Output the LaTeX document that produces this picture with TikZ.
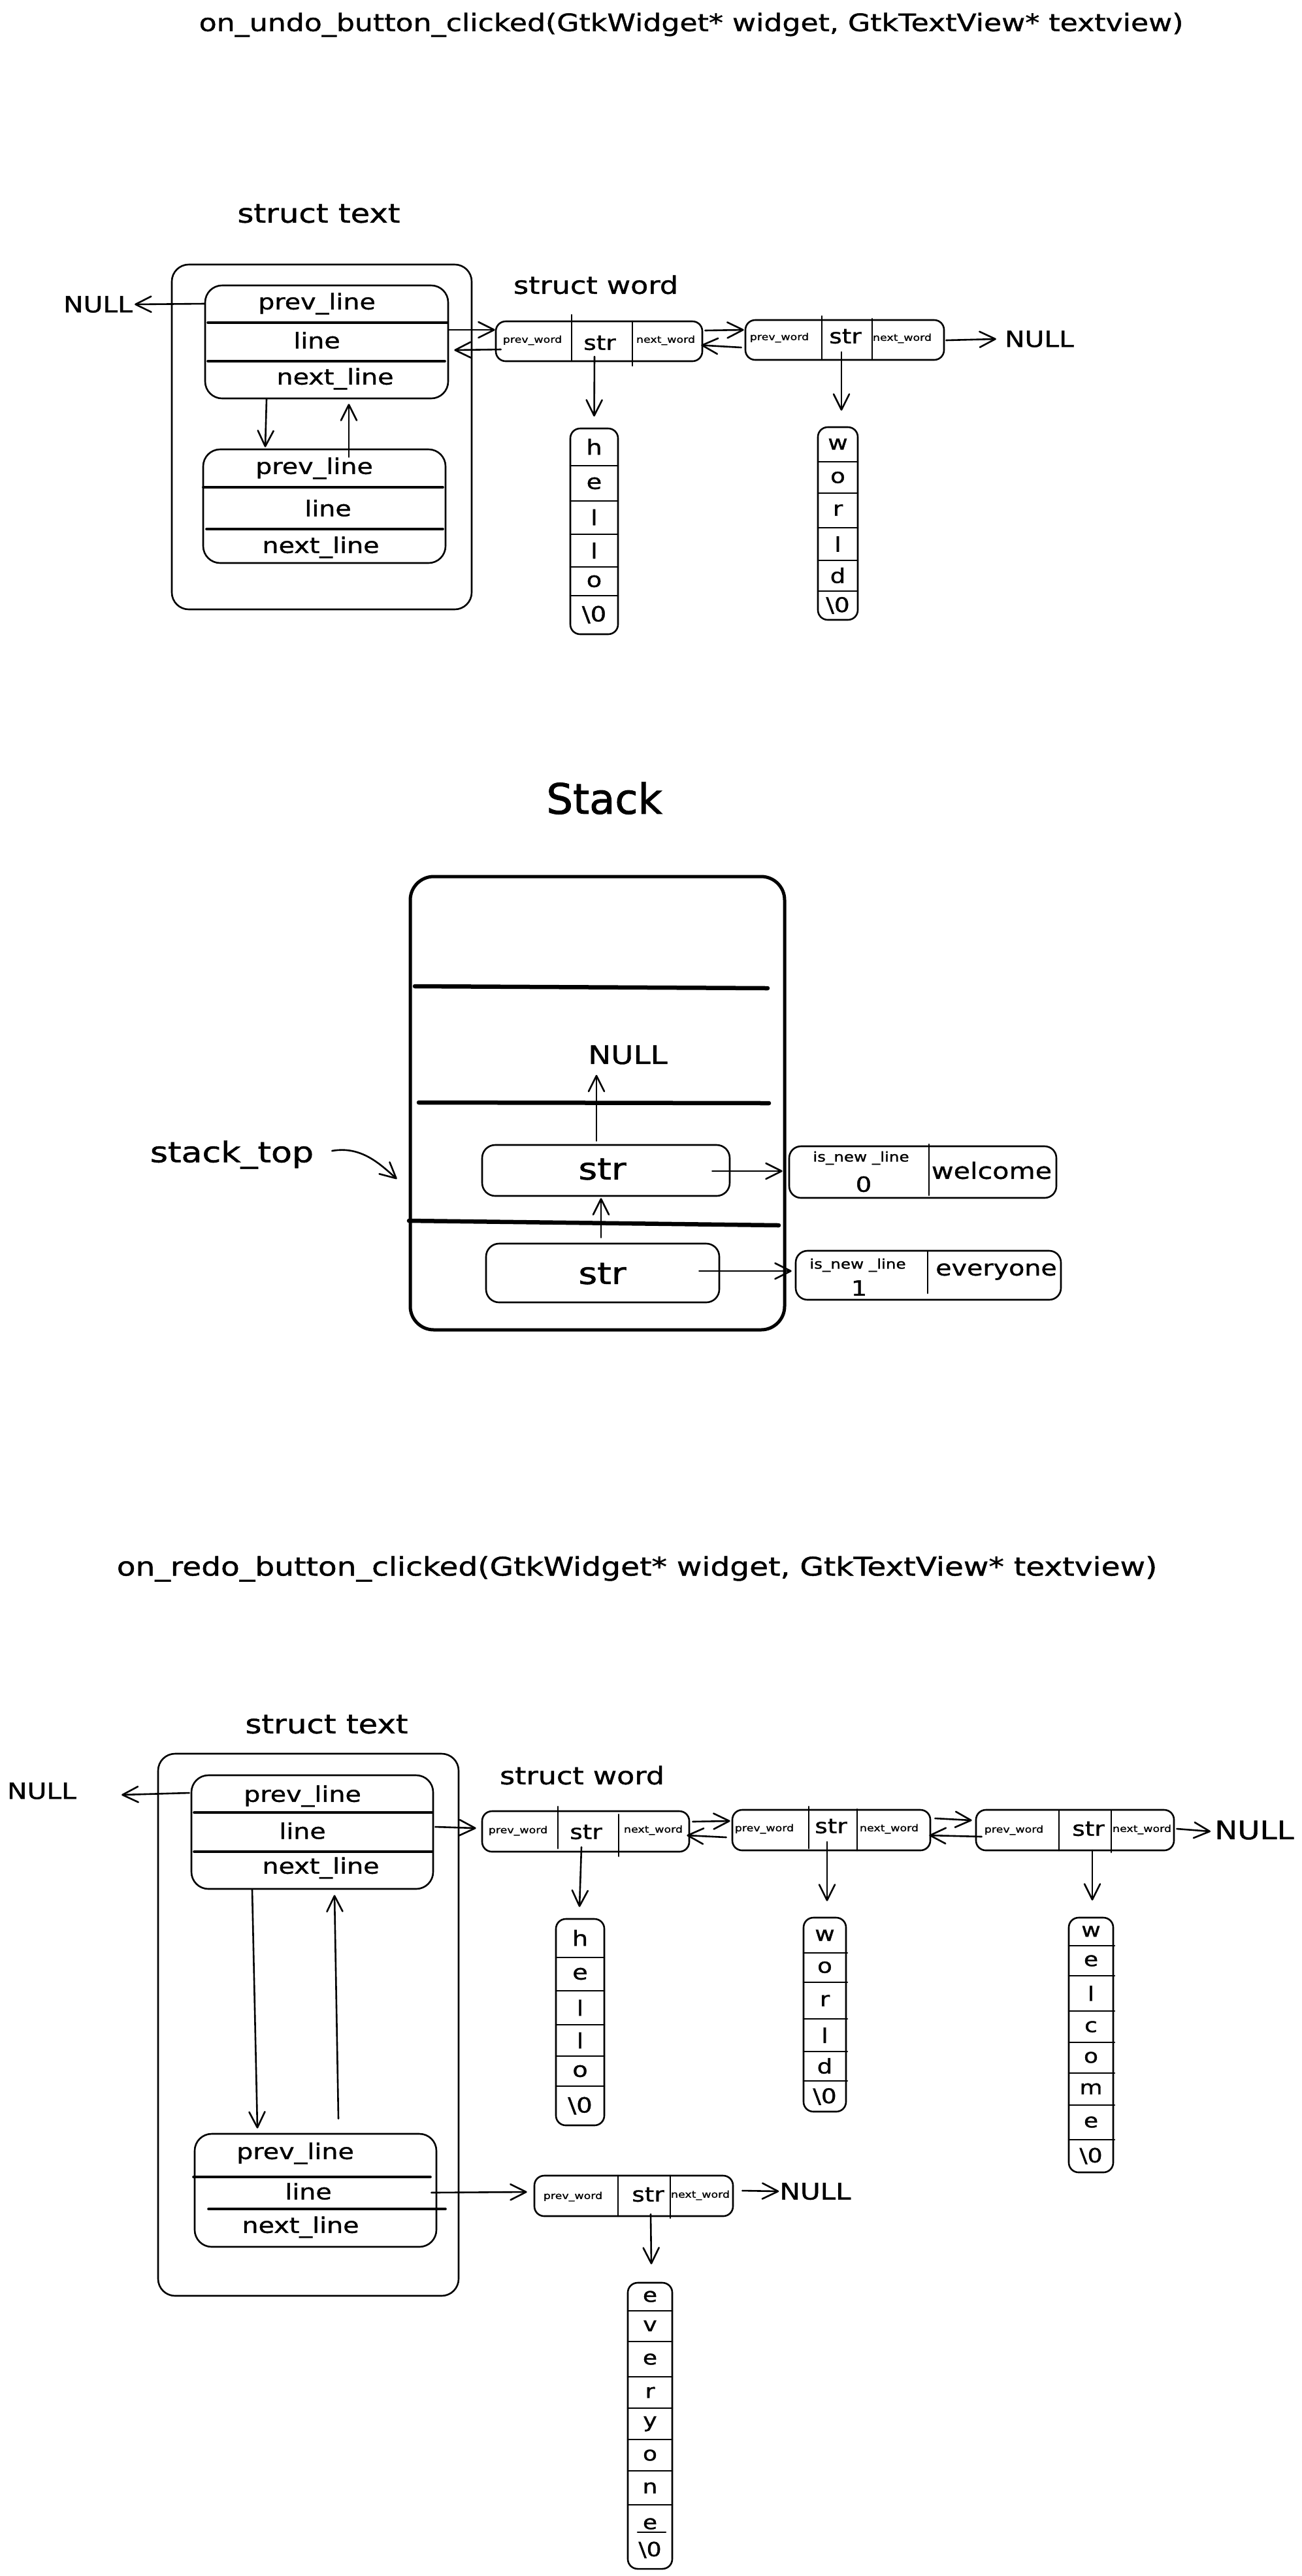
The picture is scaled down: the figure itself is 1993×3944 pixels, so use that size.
\documentclass[tikz,border=0pt]{standalone}
\usepackage{fontspec}
\setmainfont{DejaVu Sans}[FakeStretch=1.2,FakeBold=1.2]
\newfontfamily\plainfont{DejaVu Sans}[FakeBold=1.5]
\usetikzlibrary{arrows.meta,calc}
\newcommand{\fsz}[1]{\fontsize{#1pt}{#1pt}\selectfont}
\newcommand{\bz}{\textbackslash0}
\begin{document}
\begin{tikzpicture}[x=1pt,y=-1pt,
  box/.style={draw, line width=2.6pt, rounded corners=26pt, inner sep=0pt},
  wbox/.style={draw, line width=2.6pt, rounded corners=15pt, inner sep=0pt},
  cbox/.style={draw, line width=2.6pt, rounded corners=15pt, inner sep=0pt},
  txt/.style={inner sep=0pt, font={\fsz{#1}}},
  arr/.style={line width=2.6pt, line cap=round, -{Straight Barb[length=24pt,width=24pt,round]}},
  dv/.style={line width=3.6pt, line cap=round},
  sepline/.style={line width=2.6pt, line cap=round},
  heavy/.style={line width=6.5pt, line cap=round}
]
\fill[white] (0,0) rectangle (1993,3944);
\useasboundingbox (0,0) rectangle (1993,3944);

%================ UNDO =================
\node[txt=36.8] (title1) at (1058,38) {on\_undo\_button\_clicked(GtkWidget* widget, GtkTextView* textview)};
\node[txt=40] (stext1) at (488,327) {struct text};
\node[box, minimum width=459pt, minimum height=528pt] (outer1) at (492.5,669) {};
% inner struct 1
\node[box, minimum width=372pt, minimum height=173pt] (ia1) at (500,523.5) {};
\draw[dv] (318,494) -- (684,494);
\draw[dv] (318,553) -- (681,553);
\node[txt=33] (ia1p) at (485,465) {prev\_line};
\node[txt=33] (ia1l) at (485,521) {line};
\node[txt=33] (ia1n) at (513,580) {next\_line};
% inner struct 2
\node[box, minimum width=371pt, minimum height=174pt] (ib1) at (496.5,775) {};
\draw[dv] (311,746) -- (678,746);
\draw[dv] (316,810) -- (678,810);
\node[txt=33] (ib1p) at (481,717) {prev\_line};
\node[txt=33] (ib1l) at (502,778) {line};
\node[txt=33] (ib1n) at (491,838) {next\_line};
\node[txt=34] (null1) at (150,466) {NULL};
% words
\node[txt=37] (sword1) at (912,436) {struct word};
\node[wbox, minimum width=316pt, minimum height=61pt] (w1) at (917,522.5) {};
\draw[sepline] (875,482) -- (875,553);
\draw[sepline] (968,492) -- (968,560);
\node[txt=14.5] (w1p) at (815,521) {prev\_word};
\node[txt=31] (w1s) at (918,525) {str};
\node[txt=14.5] (w1n) at (1019,521) {next\_word};
\node[wbox, minimum width=304pt, minimum height=61pt] (w2) at (1293,520.5) {};
\draw[sepline] (1258,484) -- (1258,551);
\draw[sepline] (1335,488) -- (1335,551);
\node[txt=14.5] (w2p) at (1193,517) {prev\_word};
\node[txt=31] (w2s) at (1294,515) {str};
\node[txt=14.5] (w2n) at (1381,518) {next\_word};
\node[txt=34] (null2) at (1591,519) {NULL};
% hello
\node[cbox, minimum width=73pt, minimum height=315pt] (hello1) at (909.5,813.5) {};
\foreach \y in {713,767,818,868,912} \draw[sepline] (873,\y) -- (946,\y);
\foreach \y/\c [count=\i] in {684/h,740/e,792/l,843/l,890/o,941/\bz} \node[txt=32] (hello1c\i) at (909.5,\y) {\c};
% world
\node[cbox, minimum width=61pt, minimum height=295pt] (world1) at (1282.5,801.5) {};
\foreach \y in {707,755,808,858,905} \draw[sepline] (1252,\y) -- (1313,\y);
\foreach \y/\c [count=\i] in {680/w,731/o,781/r,833/l,881/d,927/\bz} \node[txt=31] (world1c\i) at (1282.5,\y) {\c};
% arrows
\draw[arr] ($(ia1.west)+(0,-58.5)$) -- ($(null1.east)+(3,0)$);
\draw[arr] ($(ia1.south)+(-92,0)$) -- ($(ib1.north)+(-90.5,-2)$);
\draw[arr] ($(ib1.north)+(37.5,13)$) -- ($(ia1.south)+(34,7)$);
\draw[arr] ($(ia1.east)+(0,-18.5)$) -- ($(w1.west)+(0,-17.5)$);
\draw[arr] ($(w1.west)+(9,12.5)$) -- ($(ia1.east)+(8,12.5)$);
\draw[arr] ($(w1.east)+(3,-16.5)$) -- ($(w2.west)+(-1,-15.5)$);
\draw[arr] ($(w2.west)+(-5,11.5)$) -- ($(w1.east)+(-3,6)$);
\draw[arr] ($(w2.east)+(2,0.5)$) -- ($(null2.west)+(-13,0)$);
\draw[arr] ($(w1.center)+(-7,23.5)$) -- ($(hello1.north)+(0,-17)$);
\draw[arr] ($(w2.center)+(-5,18.5)$) -- ($(world1.north)+(5.5,-24)$);

%================ STACK =================
\node[inner sep=0pt, font={\plainfont\fsz{64}}] (stack) at (925,1222) {Stack};
\node[draw, line width=5pt, rounded corners=36pt, inner sep=0pt, minimum width=573pt, minimum height=694pt] (stackbox) at (914.5,1689) {};
\draw[heavy] (635,1510) -- (1175,1513);
\draw[heavy] (641,1688) -- (1177,1689);
\draw[heavy] (626,1869) -- (1192,1876);
\node[txt=39] (null3) at (961,1615) {NULL};
\node[wbox, rounded corners=20pt, minimum width=379pt, minimum height=78pt] (s1) at (927.5,1792) {};
\node[txt=46] (s1t) at (922,1790) {str};
\node[wbox, rounded corners=20pt, minimum width=357pt, minimum height=90pt] (s2) at (922.5,1949) {};
\node[txt=46] (s2t) at (922,1950) {str};
\node[wbox, rounded corners=18pt, minimum width=409pt, minimum height=79pt] (wel) at (1412.5,1794.5) {};
\draw[sepline] (1422,1752) -- (1422,1830);
\node[txt=20.5] (welf) at (1318,1773) {is\_new \_line};
\node[txt=32] (welz) at (1322,1813) {0};
\node[txt=34.4] (welw) at (1518,1792) {welcome};
\node[wbox, rounded corners=18pt, minimum width=406pt, minimum height=75pt] (ev) at (1421,1952.5) {};
\draw[sepline] (1420,1916) -- (1420,1980);
\node[txt=20.5] (evf) at (1313,1937) {is\_new \_line};
\node[txt=32] (evo) at (1315,1972) {1};
\node[txt=33] (evw) at (1525,1947) {everyone};
\node[txt=43.5] (stacktop) at (355,1768) {stack\_top};
\draw[arr] ($(s1.north)+(-14.5,-5)$) -- ($(null3.south)+(-48,16)$);
\draw[arr] ($(s1.east)+(-28,1)$) -- ($(wel.west)+(-9,-1.5)$);
\draw[arr] ($(s2.north)+(-2.5,-8)$) -- ($(s1.south)+(-7.5,2)$);
\draw[arr] ($(s2.east)+(-32,-3)$) -- ($(ev.west)+(-5,-6.5)$);
\draw[arr] ($(stacktop.east)+(28,-6)$) .. controls +(45,-8) and +(-25,-22) .. ($(stackbox.west)+(-18,116)$);

%================ REDO =================
\node[txt=39.2] (title2) at (975,2402) {on\_redo\_button\_clicked(GtkWidget* widget, GtkTextView* textview)};
\node[txt=40] (stext2) at (500,2640) {struct text};
\node[box, minimum width=460pt, minimum height=830pt] (outer2) at (472,3100) {};
\node[box, minimum width=370pt, minimum height=174pt] (ia2) at (478,2805) {};
\draw[dv] (297,2775) -- (661,2775);
\draw[dv] (297,2835) -- (661,2835);
\node[txt=33] (ia2p) at (463,2750) {prev\_line};
\node[txt=33] (ia2l) at (463,2803) {line};
\node[txt=33] (ia2n) at (491,2860) {next\_line};
\node[box, minimum width=370pt, minimum height=173pt] (ib2) at (483,3353.5) {};
\draw[dv] (296,3333) -- (659,3333);
\draw[dv] (319,3382) -- (682,3382);
\node[txt=33] (ib2p) at (452,3297) {prev\_line};
\node[txt=33] (ib2l) at (472,3355) {line};
\node[txt=33] (ib2n) at (460,3410) {next\_line};
\node[txt=34] (null4) at (64,2742) {NULL};
\node[txt=37] (sword2) at (891,2718) {struct word};
% word a
\node[wbox, minimum width=317pt, minimum height=62pt] (wa) at (896.5,2804) {};
\draw[sepline] (854,2766) -- (854,2830);
\draw[sepline] (947,2778) -- (947,2842);
\node[txt=14.5] (wap) at (793,2803) {prev\_word};
\node[txt=31] (was) at (897,2805) {str};
\node[txt=14.5] (wan) at (1000,2802) {next\_word};
% word b
\node[wbox, minimum width=303pt, minimum height=62pt] (wb) at (1272.5,2802) {};
\draw[sepline] (1238,2766) -- (1238,2830);
\draw[sepline] (1312,2770) -- (1312,2833);
\node[txt=14.5] (wbp) at (1170,2800) {prev\_word};
\node[txt=31] (wbs) at (1272,2796) {str};
\node[txt=14.5] (wbn) at (1361,2800) {next\_word};
% word c
\node[wbox, minimum width=303pt, minimum height=62pt] (wc) at (1645.5,2802) {};
\draw[sepline] (1621,2772) -- (1621,2833);
\draw[sepline] (1701,2772) -- (1701,2836);
\node[txt=14.5] (wcp) at (1552,2802) {prev\_word};
\node[txt=31] (wcs) at (1666,2800) {str};
\node[txt=14.5] (wcn) at (1748,2801) {next\_word};
\node[txt=39] (null5) at (1920,2802) {NULL};
% word d
\node[wbox, minimum width=304pt, minimum height=62pt] (wd) at (970,3362) {};
\draw[sepline] (946,3331) -- (946,3393);
\draw[sepline] (1026,3331) -- (1026,3396);
\node[txt=14.5] (wdp) at (877,3363) {prev\_word};
\node[txt=31] (wds) at (992,3360) {str};
\node[txt=14.5] (wdn) at (1072,3361) {next\_word};
\node[txt=35] (null6) at (1248,3355) {NULL};
% hello 2
\node[cbox, minimum width=74pt, minimum height=316pt] (hello2) at (888,3096) {};
\foreach \y in {2997,3048,3100,3148,3194} \draw[sepline] (851,\y) -- (925,\y);
\foreach \y/\c [count=\i] in {2967/h,3022/e,3074/l,3124/l,3171/o,3224/\bz} \node[txt=32] (hello2c\i) at (888,\y) {\c};
% world 2
\node[cbox, minimum width=65pt, minimum height=297pt] (world2) at (1262.5,3084.5) {};
\foreach \y in {2990,3035,3091,3141,3186} \draw[sepline] (1230,\y) -- (1297,\y);
\foreach \y/\c [count=\i] in {2963/w,3012/o,3063/r,3116/l,3163/d,3210/\bz} \node[txt=31] (world2c\i) at (1262.5,\y) {\c};
% welcome 2
\node[cbox, minimum width=68pt, minimum height=390pt] (wel2) at (1670,3131) {};
\foreach \y in {2979,3025,3079,3127,3174,3223,3276} \draw[sepline] (1636,\y) -- (1706,\y);
\foreach \y/\c [count=\i] in {2957/w,3002/e,3052/l,3103/c,3150/o,3198/m,3249/e,3301/\bz} \node[txt=30] (wel2c\i) at (1670,\y) {\c};
% everyone 2
\node[cbox, minimum width=68pt, minimum height=438pt] (ev2) at (995,3714) {};
\foreach \y in {3538,3585,3639,3687,3735,3783,3835} \draw[sepline] (961,\y) -- (1029,\y);
\foreach \y/\c [count=\i] in {3516/e,3561/v,3612/e,3663/r,3711/y,3759/o,3809/n,3864/e,3904/\bz} \node[txt=30] (ev2c\i) at (995,\y) {\c};
\draw[sepline] (976,3877) -- (1019,3877);
% arrows redo
\draw[arr] ($(ia2.west)+(-2,-60)$) -- ($(null4.east)+(69,6)$);
\draw[arr] ($(ia2.south)+(-92,0)$) -- ($(ib2.north)+(-89,-7)$);
\draw[arr] ($(ib2.north)+(35,-22)$) -- ($(ia2.south)+(34,8)$);
\draw[arr] ($(ia2.east)+(2,-8)$) -- ($(wa.west)+(-8,-5)$);
\draw[arr] ($(wa.east)+(4,-15)$) -- ($(wb.west)+(-2,-14)$);
\draw[arr] ($(wb.west)+(-8,11)$) -- ($(wa.east)+(-5,6)$);
\draw[arr] ($(wb.east)+(6,-18)$) -- ($(wc.west)+(-5,-15)$);
\draw[arr] ($(wc.west)+(10,10)$) -- ($(wb.east)+(-3,8)$);
\draw[arr] ($(wc.east)+(3,-2)$) -- ($(null5.west)+(-6,2)$);
\draw[arr] ($(wa.center)+(-6.5,24)$) -- ($(hello2.north)+(-1,-17)$);
\draw[arr] ($(wb.center)+(-6.5,18)$) -- ($(world2.north)+(3.5,-24)$);
\draw[arr] ($(wc.center)+(26.5,31)$) -- ($(wel2.north)+(2,-25)$);
\draw[arr] ($(ib2.east)+(-9,3.5)$) -- ($(wd.west)+(-10,-6)$);
\draw[arr] ($(wd.east)+(13,-8)$) -- ($(null6.west)+(-1,0)$);
\draw[arr] ($(wd.center)+(26,28)$) -- ($(ev2.north)+(2,-27)$);
\end{tikzpicture}
\end{document}
